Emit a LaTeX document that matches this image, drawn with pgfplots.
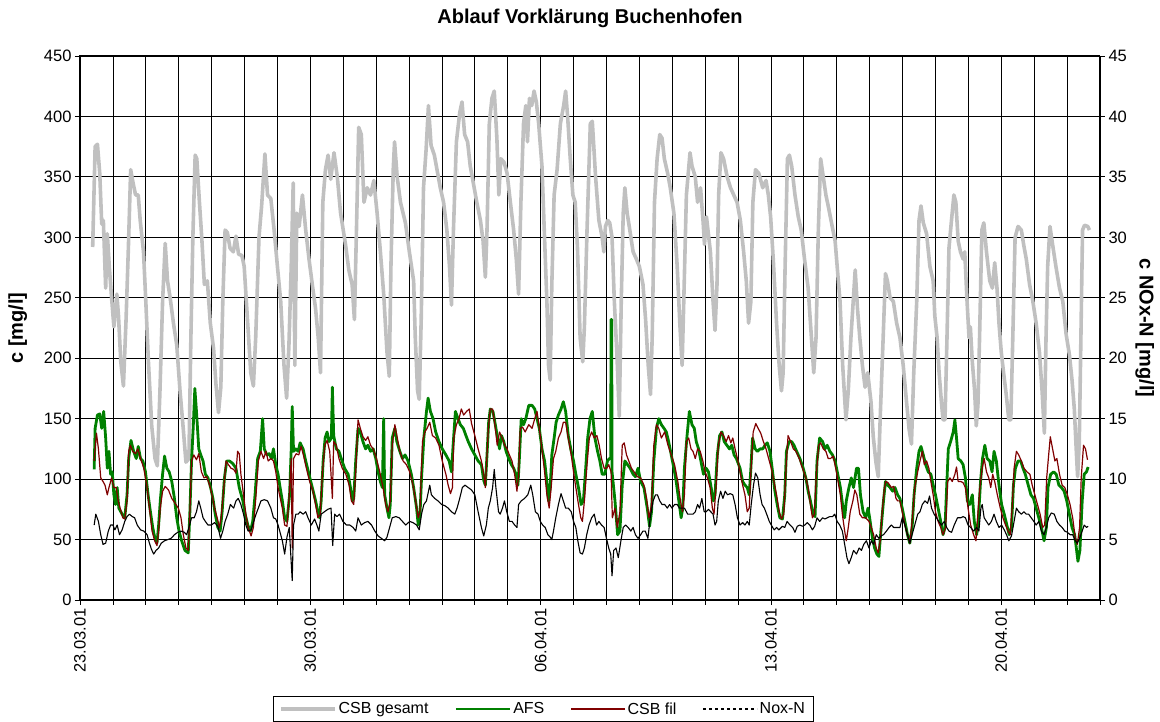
\documentclass[border=0pt]{standalone}
\usepackage{fontspec}
\setmainfont{Liberation Sans}
\usepackage{pgfplots}
\pgfplotsset{compat=1.18}
\definecolor{csbgrey}{RGB}{192,192,192}
\definecolor{afsgreen}{RGB}{0,128,0}
\definecolor{filred}{RGB}{128,0,0}
\newcommand{\tickfont}{\fontsize{16.5}{18}\selectfont}
\begin{document}
\begin{tikzpicture}
\path[use as bounding box] (0pt,0pt) rectangle (1160pt,722pt);
\begin{axis}[
  at={(80pt,122pt)}, anchor=south west,
  scale only axis, width=1020pt, height=544pt,
  xmin=0, xmax=31, ymin=0, ymax=450,
  xtick={0,7,14,21,28},
  xticklabels={23.03.01,30.03.01,06.04.01,13.04.01,20.04.01},
  minor xtick={1,2,...,31},
  ytick={0,50,...,450},
  xtick pos=bottom, ytick pos=left,
  tick align=outside, major tick length=5pt, minor tick length=5pt,
  tick style={black, line width=0.8pt},
  grid=both,
  major grid style={black, line width=0.8pt},
  minor grid style={black, line width=0.8pt},
  axis line style={black, line width=1pt},
  /pgf/number format/assume math mode=true,
  xticklabel style={rotate=90, anchor=east, font=\tickfont},
  yticklabel style={font=\tickfont},
  ylabel={c [mg/l]},
  ylabel style={font=\fontsize{20}{22}\selectfont\bfseries, at={(axis description cs:-0.061,0.5)}, anchor=center},
  title={Ablauf Vorklärung Buchenhofen},
  title style={font=\fontsize{20}{22}\selectfont\bfseries, at={(axis description cs:0.5,1)}, anchor=base, yshift=26pt},
  no markers,
  every axis plot/.append style={line join=round},
]
\addplot[csbgrey, line width=3.6pt] coordinates {
(0.385,292)(0.46,375)(0.53,377)(0.60,353)(0.66,311)(0.71,314)(0.78,258)(0.83,303)(0.89,276)(0.96,250)(1.03,226)(1.12,253)(1.17,235)(1.24,197)(1.32,177)(1.40,232)(1.47,291)(1.54,356)(1.62,344)(1.69,335)(1.77,335)(1.83,314)(1.93,288)(2.0,247)(2.08,197)(2.18,144)(2.28,117)(2.35,111)(2.43,173)(2.51,247)(2.59,295)(2.66,264)(2.74,250)(2.84,229)(2.94,211)(3.04,173)(3.14,141)(3.22,114)(3.31,117)(3.37,217)(3.43,300)(3.50,368)(3.55,365)(3.63,329)(3.70,300)(3.78,261)(3.87,264)(3.96,229)(4.06,208)(4.13,179)(4.21,155)(4.28,176)(4.34,247)(4.41,306)(4.48,304)(4.56,291)(4.66,288)(4.74,301)(4.82,286)(4.92,285)
(4.99,276)(5.09,232)(5.19,188)(5.27,177)(5.34,217)(5.44,300)(5.52,326)(5.62,369)(5.70,335)(5.80,332)(5.90,306)(6.0,276)(6.10,247)(6.20,194)(6.28,167)(6.35,211)(6.42,276)(6.48,345)(6.53,194)(6.59,320)(6.66,309)(6.76,335)(6.86,306)(6.96,282)(7.06,261)(7.16,241)(7.24,217)(7.31,188)(7.38,329)(7.46,356)(7.54,368)(7.62,348)(7.72,370)(7.82,350)(7.92,320)(8.07,294)(8.17,273)(8.27,261)(8.34,232)(8.40,303)(8.47,391)(8.55,385)(8.63,329)(8.73,341)(8.83,335)(8.93,347)(9.03,320)(9.13,288)(9.23,253)(9.33,205)(9.40,185)(9.45,276)(9.52,356)(9.56,379)(9.64,350)(9.74,329)(9.89,312)(10.01,288)
(10.14,264)(10.19,217)(10.26,173)(10.31,166)(10.37,232)(10.44,341)(10.52,373)(10.59,409)(10.67,376)(10.77,368)(10.85,356)(10.95,341)(11.05,329)(11.15,306)(11.23,276)(11.29,244)(11.35,306)(11.44,379)(11.54,403)(11.61,412)(11.69,385)(11.78,379)(11.86,359)(11.96,344)(12.06,329)(12.17,314)(12.25,297)(12.32,267)(12.37,306)(12.44,394)(12.52,415)(12.59,421)(12.67,382)(12.73,335)(12.79,365)(12.89,362)(12.98,353)(13.08,329)(13.18,306)(13.26,282)(13.33,253)(13.40,329)(13.48,394)(13.55,409)(13.60,379)(13.66,415)(13.73,409)(13.80,421)(13.87,412)(13.94,394)(14.04,359)(14.11,306)(14.19,247)(14.24,194)(14.29,182)(14.34,261)(14.41,335)(14.50,356)(14.60,394)(14.70,409)(14.76,421)(14.82,400)(14.90,365)(14.98,335)(15.05,329)(15.12,291)(15.20,217)(15.28,197)(15.33,226)(15.41,306)(15.51,394)
(15.57,396)(15.67,350)(15.77,314)(15.87,300)(15.92,288)(15.97,309)(16.04,314)(16.10,312)(16.17,300)(16.24,247)(16.32,202)(16.39,152)(16.45,247)(16.51,320)(16.56,341)(16.63,320)(16.71,306)(16.81,288)(16.91,282)(17.0,276)(17.11,261)(17.19,232)(17.27,194)(17.34,170)(17.39,217)(17.46,329)(17.54,365)(17.62,385)(17.69,382)(17.76,365)(17.86,353)(17.94,341)(18.05,320)(18.15,276)(18.23,229)(18.30,194)(18.35,247)(18.43,335)(18.54,370)(18.60,359)(18.70,350)(18.77,329)(18.86,341)(18.94,312)(18.98,294)(19.04,317)(19.16,288)(19.24,247)(19.30,223)(19.36,261)(19.41,335)(19.48,370)(19.56,365)(19.67,350)(19.77,341)(19.87,335)(19.97,329)(20.07,314)(20.17,288)(20.25,264)(20.32,229)(20.39,247)(20.45,329)(20.53,356)(20.63,353)
(20.75,341)(20.85,347)(20.92,335)(20.99,317)(21.07,282)(21.17,229)(21.25,194)(21.32,173)(21.37,188)(21.43,276)(21.50,365)(21.56,368)(21.63,359)(21.73,335)(21.83,317)(21.92,306)(22.02,282)(22.13,258)(22.23,217)(22.30,188)(22.37,217)(22.44,306)(22.51,365)(22.59,350)(22.67,335)(22.74,326)(22.84,312)(22.95,297)(23.03,270)(23.10,247)(23.18,194)(23.28,149)(23.35,173)(23.43,217)(23.50,247)(23.56,273)(23.63,241)(23.70,217)(23.78,194)(23.86,176)(23.94,188)(24.04,164)(24.11,135)(24.19,114)(24.26,102)(24.33,158)(24.41,217)(24.48,270)(24.54,264)(24.62,250)(24.72,247)(24.82,229)(24.92,217)(25.02,194)(25.12,164)(25.20,141)(25.27,129)(25.34,188)(25.43,247)(25.50,314)(25.56,326)(25.63,312)(25.73,303)(25.83,276)
(25.93,264)(25.98,235)(26.05,217)(26.11,188)(26.18,164)(26.23,149)(26.29,149)(26.35,217)(26.41,291)(26.48,312)(26.56,335)(26.62,329)(26.69,297)(26.76,288)(26.84,282)(26.89,288)(26.96,247)(27.02,217)(27.06,226)(27.12,197)(27.19,173)(27.24,144)(27.29,161)(27.34,217)(27.41,306)(27.47,312)(27.55,288)(27.65,264)(27.73,258)(27.80,279)(27.87,258)(27.93,229)(28.0,205)(28.07,188)(28.15,170)(28.23,149)(28.29,149)(28.35,217)(28.42,300)(28.51,309)(28.61,306)(28.68,294)(28.76,282)(28.86,261)(28.96,247)(29.06,229)(29.16,205)(29.24,173)(29.31,138)(29.36,217)(29.41,276)(29.48,309)(29.56,294)(29.66,276)(29.77,258)(29.87,247)(29.97,220)(30.07,203)(30.15,182)(30.22,158)(30.27,129)(30.32,102)(30.37,129)(30.42,217)(30.47,306)(30.53,310)(30.63,309)(30.68,306)
};
\addplot[afsgreen, line width=2.8pt] coordinates {
(0.43,108)(0.46,142)(0.53,153)(0.60,154)(0.66,142)(0.72,156)(0.78,134)(0.83,109)(0.88,123)(0.93,104)(0.98,106)(1.03,87)(1.08,79)(1.13,93)(1.18,76)(1.28,71)(1.36,68)(1.43,87)(1.48,117)(1.55,132)(1.63,123)(1.71,117)(1.77,127)(1.84,117)(1.91,115)(1.99,106)(2.07,87)(2.14,73)(2.21,60)(2.27,52)(2.34,47)(2.39,62)(2.44,82)(2.51,104)(2.57,119)(2.64,109)(2.71,106)(2.79,98)(2.87,84)(2.94,68)(3.01,57)(3.09,49)(3.19,41)(3.29,39)(3.34,73)(3.39,115)(3.44,142)(3.49,175)(3.54,156)(3.61,125)(3.67,120)(3.74,115)(3.81,104)(3.89,101)(3.97,93)(4.04,84)(4.11,71)(4.19,60)(4.26,57)(4.32,73)(4.39,101)(4.46,115)(4.54,115)(4.64,113)(4.74,109)(4.84,93)(4.95,82)(5.02,71)(5.10,62)(5.18,57)(5.25,65)(5.32,87)(5.40,117)(5.48,123)(5.55,150)(5.60,125)(5.68,120)(5.75,121)(5.82,117)(5.88,125)(5.95,112)(6.02,104)
(6.07,95)(6.15,82)(6.22,68)(6.29,65)(6.37,87)(6.42,125)(6.45,160)(6.49,123)(6.56,125)(6.63,123)(6.69,130)(6.78,125)(6.86,115)(6.96,104)(7.06,93)(7.16,82)(7.23,73)(7.28,68)(7.33,82)(7.39,115)(7.45,134)(7.51,139)(7.57,131)(7.64,134)(7.67,176)(7.71,136)(7.79,125)(7.87,123)(7.94,117)(8.04,109)(8.15,104)(8.22,93)(8.28,82)(8.32,84)(8.38,115)(8.45,142)(8.52,139)(8.60,131)(8.68,125)(8.75,128)(8.83,123)(8.91,125)(8.99,117)(9.06,106)(9.13,98)(9.19,93)(9.23,150)(9.26,87)(9.33,76)(9.39,68)(9.43,79)(9.49,134)(9.57,142)(9.63,131)(9.72,123)(9.80,117)(9.88,120)(9.97,115)(10.07,104)(10.14,93)(10.23,76)(10.28,62)(10.33,68)(10.38,101)(10.45,134)(10.53,156)(10.58,167)(10.65,156)(10.73,150)(10.81,139)(10.91,131)(11.01,125)(11.12,120)(11.22,115)(11.29,106)(11.34,128)(11.41,156)(11.49,150)(11.56,145)(11.65,142)(11.73,136)(11.80,131)(11.90,125)(12.0,120)(12.10,115)(12.20,112)(12.27,99)
(12.32,95)(12.37,120)(12.42,147)(12.47,158)(12.55,156)(12.61,147)(12.68,136)(12.75,125)(12.81,136)(12.88,131)(12.95,123)(13.03,117)(13.11,112)(13.18,109)(13.25,104)(13.31,95)(13.35,115)(13.41,150)(13.48,145)(13.55,150)(13.64,161)(13.74,161)(13.82,158)(13.89,150)(13.96,142)(14.04,125)(14.12,115)(14.19,98)(14.24,82)(14.29,93)(14.34,120)(14.41,134)(14.47,147)(14.54,153)(14.62,158)(14.69,164)(14.76,156)(14.84,136)(14.93,123)(15.0,115)(15.07,104)(15.15,93)(15.23,79)(15.30,82)(15.37,109)(15.43,134)(15.50,150)(15.57,156)(15.65,134)(15.73,123)(15.80,115)(15.87,104)(15.95,104)(16.03,115)(16.09,117)(16.13,117)(16.14,232)(16.16,232)(16.17,106)(16.26,82)(16.34,54)(16.41,57)(16.48,95)(16.56,115)(16.64,112)(16.72,109)(16.81,104)(16.88,102)(16.96,109)(17.04,98)(17.14,93)(17.24,76)(17.31,61)(17.37,73)(17.44,115)(17.52,142)(17.59,150)(17.67,145)(17.75,142)(17.82,139)(17.89,131)(17.97,120)(18.05,109)(18.12,98)(18.19,84)(18.27,68)(18.32,76)(18.37,109)(18.45,136)(18.52,156)
(18.60,145)(18.67,142)(18.73,131)(18.80,125)(18.87,115)(18.95,104)(19.03,109)(19.10,106)(19.17,95)(19.25,82)(19.30,87)(19.37,120)(19.44,136)(19.51,139)(19.58,131)(19.66,128)(19.74,125)(19.81,128)(19.88,120)(19.95,117)(20.06,109)(20.14,98)(20.21,95)(20.28,93)(20.34,87)(20.39,109)(20.44,134)(20.52,125)(20.59,123)(20.67,125)(20.75,125)(20.82,128)(20.89,130)(20.97,123)(21.05,106)(21.12,90)(21.19,79)(21.27,68)(21.35,67)(21.42,87)(21.47,123)(21.55,131)(21.63,131)(21.70,128)(21.78,123)(21.88,117)(21.98,109)(22.06,101)(22.13,90)(22.20,82)(22.28,71)(22.34,69)(22.40,115)(22.48,134)(22.57,131)(22.64,125)(22.71,128)(22.79,123)(22.87,120)(22.95,115)(23.03,104)(23.11,93)(23.19,76)(23.24,68)(23.29,82)(23.37,93)(23.44,101)(23.51,93)(23.60,109)(23.66,109)(23.72,87)(23.80,73)(23.88,68)(23.95,76)(24.0,68)(24.08,52)(24.15,43)(24.22,38)(24.28,36)(24.35,60)(24.42,82)(24.48,98)(24.55,95)(24.62,93)(24.70,90)
(24.77,93)(24.85,87)(24.92,84)(24.99,76)(25.07,65)(25.15,54)(25.22,47)(25.29,60)(25.35,87)(25.43,109)(25.50,123)(25.56,127)(25.63,120)(25.70,112)(25.78,106)(25.86,104)(25.93,95)(26.0,87)(26.08,76)(26.16,65)(26.23,54)(26.29,60)(26.34,93)(26.39,125)(26.46,131)(26.54,139)(26.59,149)(26.64,134)(26.69,117)(26.77,115)(26.84,112)(26.91,101)(26.97,82)(27.04,79)(27.12,87)(27.18,65)(27.25,54)(27.30,65)(27.37,98)(27.43,117)(27.50,128)(27.57,117)(27.65,115)(27.72,106)(27.78,123)(27.85,115)(27.93,95)(28.01,79)(28.09,71)(28.17,62)(28.24,54)(28.31,60)(28.37,95)(28.43,109)(28.51,115)(28.59,115)(28.66,109)(28.73,104)(28.82,95)(28.90,87)(28.98,84)(29.06,76)(29.14,68)(29.22,60)(29.30,49)(29.37,60)(29.42,93)(29.50,104)(29.59,106)(29.67,104)(29.75,95)(29.83,93)(29.91,90)(29.99,82)(30.07,71)(30.15,60)(30.23,54)(30.29,41)(30.33,32)(30.39,41)(30.46,82)(30.52,104)(30.59,106)(30.64,110)
};
\addplot[filred, line width=1.2pt] coordinates {
(0.43,115)(0.50,138)(0.56,125)(0.63,101)(0.70,98)(0.76,95)(0.83,87)(0.88,93)(0.96,101)(1.03,93)(1.10,93)(1.16,82)(1.23,75)(1.30,68)(1.36,67)(1.43,82)(1.48,123)(1.53,128)(1.60,123)(1.69,121)(1.76,125)(1.84,117)(1.94,109)(2.04,93)(2.11,76)(2.19,57)(2.27,49)(2.34,45)(2.39,57)(2.44,76)(2.51,90)(2.59,94)(2.69,91)(2.79,84)(2.89,80)(2.99,76)(3.07,68)(3.14,54)(3.22,43)(3.29,41)(3.34,73)(3.39,115)(3.46,120)(3.54,116)(3.61,121)(3.69,106)(3.77,101)(3.85,102)(3.94,95)(4.01,87)(4.09,76)(4.17,68)(4.24,60)(4.29,68)(4.37,93)(4.44,115)(4.51,112)(4.59,109)(4.67,108)(4.74,105)(4.79,123)(4.84,121)(4.89,104)(4.97,87)(5.04,71)(5.11,60)(5.20,53)(5.27,60)(5.35,87)(5.42,115)(5.50,123)(5.58,117)(5.65,123)(5.72,115)(5.80,117)(5.88,115)(5.95,106)(6.02,93)
(6.08,85)(6.15,76)(6.22,62)(6.29,61)(6.36,87)(6.42,117)(6.45,43)(6.49,117)(6.57,121)(6.65,120)(6.72,127)(6.79,120)(6.88,109)(6.98,98)(7.08,90)(7.16,79)(7.23,68)(7.30,71)(7.37,106)(7.44,128)(7.51,132)(7.59,123)(7.67,84)(7.71,131)(7.79,128)(7.87,117)(7.97,109)(8.08,104)(8.18,95)(8.25,82)(8.32,79)(8.38,106)(8.45,149)(8.52,142)(8.60,135)(8.68,132)(8.75,135)(8.83,128)(8.91,125)(9.01,117)(9.11,106)(9.21,93)(9.29,79)(9.36,73)(9.43,82)(9.49,128)(9.57,145)(9.63,136)(9.72,123)(9.82,115)(9.92,112)(10.02,106)(10.12,95)(10.20,82)(10.28,68)(10.33,73)(10.41,131)(10.48,139)(10.55,142)(10.63,147)(10.71,136)(10.81,134)(10.91,128)(11.01,115)(11.12,104)(11.19,95)(11.26,88)(11.32,93)(11.36,134)(11.44,145)(11.52,150)(11.59,158)(11.66,153)(11.75,156)(11.83,158)(11.90,146)(12.0,136)(12.10,125)(12.20,115)(12.27,104)
(12.32,93)(12.41,142)(12.47,158)(12.54,158)(12.61,145)(12.68,128)(12.75,139)(12.83,134)(12.91,128)(12.98,125)(13.05,120)(13.13,115)(13.21,104)(13.28,90)(13.33,104)(13.38,142)(13.45,143)(13.53,139)(13.64,145)(13.74,142)(13.82,150)(13.89,156)(13.96,142)(14.04,125)(14.12,106)(14.19,87)(14.26,76)(14.32,93)(14.39,117)(14.46,123)(14.54,134)(14.62,139)(14.69,147)(14.76,147)(14.84,134)(14.93,120)(15.0,106)(15.07,93)(15.15,79)(15.22,68)(15.27,65)(15.33,82)(15.41,112)(15.48,134)(15.55,139)(15.63,134)(15.71,136)(15.78,128)(15.85,117)(15.93,109)(16.01,109)(16.07,112)(16.14,106)(16.18,68)(16.26,76)(16.33,60)(16.41,73)(16.48,128)(16.54,130)(16.61,120)(16.68,115)(16.76,109)(16.84,106)(16.94,102)(17.04,101)(17.14,95)(17.22,84)(17.29,68)(17.37,79)(17.44,128)(17.52,145)(17.59,142)(17.67,134)(17.77,139)(17.87,128)(17.97,120)(18.07,112)(18.17,98)(18.25,82)(18.31,73)(18.37,87)(18.43,131)(18.50,134)
(18.57,125)(18.63,123)(18.70,117)(18.77,125)(18.85,123)(18.93,115)(19.0,106)(19.07,101)(19.15,93)(19.22,76)(19.27,71)(19.33,93)(19.40,128)(19.48,139)(19.56,136)(19.64,131)(19.71,136)(19.78,130)(19.84,134)(19.91,125)(19.98,117)(20.06,106)(20.14,95)(20.21,87)(20.28,73)(20.34,76)(20.39,106)(20.46,139)(20.54,146)(20.61,142)(20.69,138)(20.77,131)(20.85,125)(20.93,117)(21.01,109)(21.09,98)(21.17,87)(21.25,73)(21.32,67)(21.39,71)(21.47,115)(21.52,136)(21.60,131)(21.68,125)(21.76,123)(21.86,117)(21.96,109)(22.06,101)(22.13,93)(22.20,79)(22.26,68)(22.32,71)(22.38,104)(22.45,128)(22.51,130)(22.59,125)(22.67,123)(22.74,117)(22.81,117)(22.89,119)(22.97,109)(23.04,98)(23.11,87)(23.17,71)(23.24,57)(23.29,49)(23.35,60)(23.41,73)(23.49,82)(23.55,91)(23.61,87)(23.70,71)(23.78,68)(23.88,68)(23.98,65)(24.05,60)(24.12,54)(24.20,43)(24.26,39)(24.32,49)(24.38,73)(24.45,93)(24.49,98)(24.56,97)(24.66,93)(24.73,94)
(24.80,84)(24.85,82)(24.92,82)(24.99,73)(25.07,62)(25.15,54)(25.22,47)(25.29,65)(25.37,93)(25.46,106)(25.53,115)(25.60,123)(25.66,112)(25.73,115)(25.80,109)(25.86,98)(25.93,87)(26.0,73)(26.08,65)(26.16,60)(26.23,54)(26.31,60)(26.37,98)(26.44,101)(26.51,98)(26.59,104)(26.64,110)(26.69,98)(26.77,98)(26.84,97)(26.91,93)(26.99,76)(27.07,62)(27.16,54)(27.23,49)(27.28,68)(27.35,93)(27.42,109)(27.48,117)(27.55,106)(27.62,101)(27.68,93)(27.74,104)(27.80,98)(27.88,87)(27.97,76)(28.05,68)(28.13,62)(28.21,57)(28.27,54)(28.33,76)(28.39,109)(28.46,123)(28.53,120)(28.61,115)(28.69,109)(28.78,106)(28.87,104)(28.94,95)(29.02,87)(29.10,79)(29.18,71)(29.26,60)(29.32,62)(29.38,101)(29.44,120)(29.49,135)(29.56,125)(29.63,115)(29.69,117)(29.77,104)(29.85,95)(29.93,93)(30.01,87)(30.09,79)(30.17,68)(30.25,51)(30.31,46)(30.38,60)(30.43,101)(30.50,128)(30.56,125)(30.62,116)
};
\end{axis}
\begin{axis}[
  at={(80pt,122pt)}, anchor=south west,
  scale only axis, width=1020pt, height=544pt,
  xmin=0, xmax=31, ymin=0, ymax=45,
  axis x line=none, axis y line*=right,
  ytick={0,5,...,45},
  tick align=outside, major tick length=5pt,
  tick style={black, line width=0.8pt},
  axis line style={black, line width=1pt},
  /pgf/number format/assume math mode=true,
  yticklabel style={font=\tickfont},
  ylabel={c NOx-N [mg/l]},
  ylabel style={font=\fontsize{20}{22}\selectfont\bfseries, at={(axis description cs:1.044,0.5)}, anchor=center, rotate=180},
  no markers,
  every axis plot/.append style={line join=round},
  legend columns=4,
  legend style={at={(axis description cs:0.454,-0.1765)}, anchor=north, draw=black, line width=1pt,
    font=\fontsize{16}{18}\selectfont, inner xsep=6pt, inner ysep=4pt,
    /tikz/every even column/.append style={column sep=24pt}},
  legend image code/.code={\draw[#1] (0pt,0pt) -- (54pt,0pt);},
]
\addlegendimage{csbgrey, line width=3.6pt}
\addlegendentry{CSB gesamt}
\addlegendimage{afsgreen, line width=2.8pt}
\addlegendentry{AFS}
\addlegendimage{filred, line width=1.2pt}
\addlegendentry{CSB fil}
\addlegendimage{black, line width=1.2pt, dash pattern=on 3pt off 3pt}
\addlegendentry{Nox-N}
\addplot[black, line width=1.1pt, forget plot] coordinates {
(0.43,6.2)(0.48,7.1)(0.56,6.5)(0.63,5.4)(0.70,4.6)(0.78,4.7)(0.86,5.7)(0.93,6.2)(1.0,6.2)(1.06,5.8)(1.13,6.2)(1.20,5.4)(1.28,5.8)(1.36,6.5)(1.43,6.9)(1.50,7.1)(1.59,6.9)(1.66,6.8)(1.74,6.2)(1.84,5.8)(1.94,5.7)(2.04,5.4)(2.11,4.7)(2.17,4.2)(2.24,3.8)(2.31,4.1)(2.39,4.3)(2.47,4.7)(2.57,4.9)(2.67,5.0)(2.77,5.1)(2.87,5.4)(2.97,5.6)(3.07,5.7)(3.17,5.6)(3.24,5.4)(3.31,6.0)(3.39,6.8)(3.47,6.8)(3.54,7.3)(3.61,8.2)(3.67,7.6)(3.74,6.8)(3.81,6.5)(3.89,6.2)(3.99,6.2)(4.09,6.4)(4.19,6.1)(4.27,5.1)(4.34,5.7)(4.41,6.5)(4.49,7.1)(4.57,7.9)(4.67,7.6)(4.74,8.2)(4.81,8.4)(4.89,7.9)(4.97,7.1)(5.04,6.2)(5.11,5.7)(5.20,5.8)(5.28,6.5)(5.35,7.1)(5.42,7.6)(5.50,8.2)(5.60,8.3)(5.70,8.2)(5.80,7.6)(5.88,6.8)(5.95,6.7)(6.02,6.2)
(6.10,5.4)(6.15,4.9)(6.22,3.8)(6.29,5.2)(6.36,6.0)(6.45,1.6)(6.49,6.2)(6.56,7.1)(6.63,7.1)(6.69,7.3)(6.78,7.1)(6.86,7.3)(6.93,6.8)(7.03,6.2)(7.13,6.7)(7.20,6.2)(7.26,5.7)(7.33,7.1)(7.43,7.3)(7.53,7.5)(7.63,7.6)(7.68,4.5)(7.74,7.1)(7.81,6.9)(7.89,7.1)(7.99,6.5)(8.10,6.2)(8.20,6.2)(8.30,6.0)(8.38,5.7)(8.45,6.8)(8.55,6.2)(8.65,6.4)(8.75,6.5)(8.86,6.2)(8.96,5.7)(9.06,5.3)(9.16,5.1)(9.26,4.9)(9.33,5.2)(9.41,6.0)(9.49,6.8)(9.60,6.9)(9.70,6.8)(9.80,6.5)(9.90,6.2)(10.02,6.5)(10.12,6.4)(10.23,6.2)(10.31,5.8)(10.38,7.1)(10.45,7.9)(10.53,8.2)(10.63,9.5)(10.68,8.7)(10.78,8.4)(10.88,8.2)(10.99,7.9)(11.09,7.8)(11.19,7.6)(11.29,7.3)(11.39,7.1)(11.46,7.6)(11.54,8.4)(11.62,9.3)(11.70,9.5)(11.80,9.3)(11.90,9.1)(12.0,8.7)(12.10,7.3)(12.20,6.0)(12.27,5.3)
(12.35,6.2)(12.41,7.6)(12.47,8.2)(12.54,9.3)(12.59,10.8)(12.64,9.3)(12.72,7.3)(12.77,7.1)(12.84,7.6)(12.90,8.2)(12.97,7.3)(13.05,6.5)(13.13,6.5)(13.21,6.2)(13.28,6.0)(13.33,7.9)(13.41,8.2)(13.51,8.4)(13.61,8.7)(13.70,9.5)(13.76,8.7)(13.84,7.3)(13.92,7.1)(13.99,6.5)(14.06,6.2)(14.14,6.0)(14.22,5.4)(14.29,5.2)(14.34,5.0)(14.39,5.7)(14.46,6.8)(14.54,7.9)(14.62,8.8)(14.69,8.2)(14.76,7.6)(14.84,7.6)(14.93,7.3)(15.0,6.5)(15.07,6.0)(15.13,4.9)(15.20,3.9)(15.27,3.8)(15.33,4.3)(15.40,5.4)(15.47,6.2)(15.55,6.8)(15.63,7.1)(15.70,6.2)(15.77,6.5)(15.85,6.2)(15.93,6.0)(16.0,5.1)(16.07,4.3)(16.13,3.8)(16.17,2.0)(16.22,4.1)(16.29,4.3)(16.36,3.5)(16.44,4.9)(16.51,6.0)(16.58,6.2)(16.66,6.0)(16.74,5.7)(16.81,6.0)(16.88,5.4)(16.96,5.1)(17.04,5.4)(17.11,5.7)(17.18,5.7)(17.26,5.1)(17.33,6.8)(17.42,8.2)(17.49,8.7)(17.55,8.7)(17.62,8.2)(17.69,7.9)(17.77,7.9)(17.85,7.6)(17.92,7.9)(17.99,7.6)(18.07,7.9)(18.15,7.9)(18.22,7.6)(18.29,7.6)(18.37,7.6)(18.47,7.1)(18.57,7.1)
(18.63,7.1)(18.70,7.3)(18.77,7.9)(18.83,7.6)(18.90,8.4)(18.97,7.3)(19.03,7.3)(19.10,7.5)(19.17,7.3)(19.24,7.1)(19.30,6.2)(19.35,6.5)(19.40,8.2)(19.47,9.0)(19.54,8.4)(19.61,9.0)(19.68,8.7)(19.76,8.8)(19.84,8.7)(19.91,7.9)(19.98,6.8)(20.06,6.2)(20.14,6.4)(20.21,6.2)(20.28,6.5)(20.34,6.2)(20.40,7.9)(20.47,9.5)(20.53,10.5)(20.60,10.1)(20.67,8.7)(20.73,7.9)(20.80,7.6)(20.87,7.1)(20.95,6.5)(21.03,6.1)(21.10,5.8)(21.17,6.0)(21.24,5.8)(21.35,6.1)(21.42,6.0)(21.49,6.5)(21.58,6.2)(21.66,6.0)(21.73,5.6)(21.80,6.1)(21.88,6.2)(21.96,6.1)(22.03,6.2)(22.10,6.4)(22.18,6.2)(22.26,5.8)(22.33,6.1)(22.40,6.8)(22.48,6.5)(22.57,6.8)(22.64,6.7)(22.71,6.8)(22.79,6.9)(22.87,6.9)(22.94,7.1)(23.01,6.5)(23.09,6.2)(23.17,5.7)(23.24,4.6)(23.31,3.5)(23.37,3.0)(23.44,3.5)(23.51,4.1)(23.60,3.8)(23.68,4.3)(23.75,4.1)(23.82,4.6)(23.90,4.9)(23.98,4.3)(24.05,4.9)(24.12,4.6)(24.20,5.4)(24.28,5.1)(24.35,5.3)(24.42,5.4)(24.51,5.7)(24.59,6.0)(24.66,6.2)(24.73,6.0)
(24.81,6.0)(24.92,6.0)(24.99,6.8)(25.07,6.2)(25.15,5.4)(25.22,4.7)(25.29,5.4)(25.37,6.2)(25.46,7.1)(25.53,7.3)(25.60,7.9)(25.68,8.2)(25.76,8.0)(25.82,8.6)(25.88,7.6)(25.96,7.1)(26.03,6.8)(26.10,6.5)(26.18,6.2)(26.27,6.5)(26.34,6.0)(26.41,5.7)(26.49,5.6)(26.57,6.2)(26.67,6.8)(26.77,6.8)(26.84,6.9)(26.91,6.8)(26.99,6.2)(27.07,6.0)(27.16,5.7)(27.25,6.0)(27.32,5.7)(27.38,7.6)(27.42,7.9)(27.48,6.8)(27.55,6.5)(27.62,6.2)(27.70,6.5)(27.78,7.1)(27.85,6.5)(27.93,6.0)(28.01,6.2)(28.09,5.8)(28.16,5.4)(28.23,4.9)(28.31,5.3)(28.39,6.5)(28.46,7.6)(28.53,7.3)(28.61,7.1)(28.69,7.3)(28.76,7.1)(28.83,7.1)(28.91,6.8)(28.99,6.5)(29.06,6.2)(29.14,6.5)(29.22,5.7)(29.30,5.4)(29.37,6.0)(29.44,6.8)(29.52,7.2)(29.61,7.1)(29.69,6.5)(29.77,6.2)(29.85,6.0)(29.93,5.7)(30.01,5.6)(30.09,5.4)(30.17,5.4)(30.25,4.9)(30.31,4.7)(30.38,5.1)(30.46,5.7)(30.52,6.2)(30.59,6.0)(30.64,6.1)
};
\end{axis}
\end{tikzpicture}
\end{document}
